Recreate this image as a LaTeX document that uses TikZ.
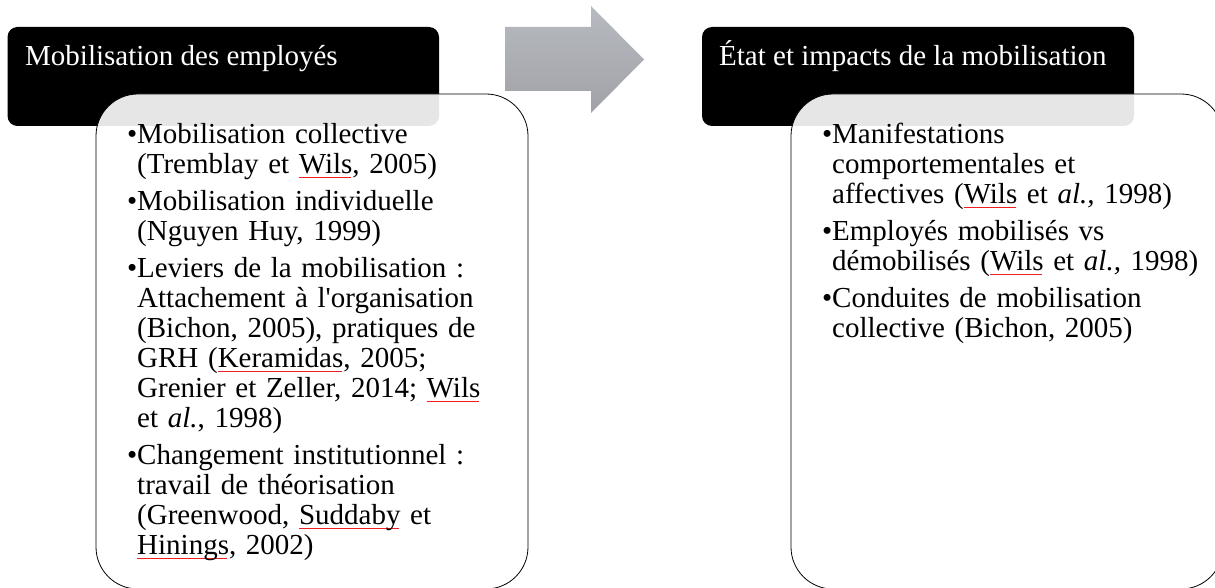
\documentclass[tikz,border=0pt]{standalone}
\usepackage{fontspec}
\setmainfont{Liberation Serif}
\definecolor{arrowtop}{RGB}{184,186,193}
\definecolor{arrowbot}{RGB}{160,162,168}
\definecolor{squig}{RGB}{240,30,30}
\newlength\bulw \setlength\bulw{10pt}
\newsavebox\sqbox
\newcommand\sqw[1]{\leavevmode\sbox\sqbox{#1}\rlap{\hbox to \wd\sqbox{\color{squig}\leaders\hbox{\rule[-4.6pt]{1pt}{0.7pt}\rule[-3.9pt]{1pt}{0.7pt}}\hfill}}#1}
\newcommand\bul[1]{\hangindent=\bulw\hangafter=1\noindent\makebox[\bulw][l]{•}#1\par}
\newcommand\nl{\newline}
\begin{document}
\begin{tikzpicture}[x=1pt,y=-1pt,
  header/.style={fill=black, rounded corners=10pt},
  panel/.style={fill=white, fill opacity=0.9, draw=black, line width=0.8pt, rounded corners=42pt},
  htext/.style={anchor=base west, inner sep=0pt, text=white, font=\fontsize{29}{30}\selectfont},
  btext/.style={anchor=base west, inner sep=0pt, text width=420pt, align=left, font=\fontsize{29}{30}\selectfont\setlength\parskip{7pt}},
]
\useasboundingbox (0,0) rectangle (1215,588);
% left column
\path[header] (7.5,27) rectangle (439,126);
\node[htext] (h1) at (25,66) {Mobilisation des employés};
\path[panel] (96,94) rectangle (528,589);
\node[btext] (b1) at (127,143.5) {%
\bul{Mobilisation collective\nl(Tremblay et \sqw{Wils}, 2005)}%
\bul{Mobilisation individuelle\nl(Nguyen Huy, 1999)}%
\bul{Leviers de la mobilisation :\nl Attachement à l\textquotesingle organisation\nl(Bichon, 2005), pratiques de\nl GRH (\sqw{Keramidas}, 2005;\nl Grenier et Zeller, 2014; \sqw{Wils}\nl et \textit{al.}, 1998)}%
\bul{Changement institutionnel :\nl travail de théorisation\nl(Greenwood, \sqw{Suddaby} et\nl\sqw{Hinings}, 2002)}};
% arrow
\shade[top color=arrowtop, bottom color=arrowbot]
  (505,27) -- (591,27) -- (591,6) -- (644,59.5) -- (591,113) -- (591,91) -- (505,91) -- cycle;
% right column
\path[header] (702,27) rectangle (1134,126);
\node[htext] (h2) at (719,66) {État et impacts de la mobilisation};
\path[panel] (791,94) rectangle (1223,589);
\node[btext] (b2) at (822,143.5) {%
\bul{Manifestations\nl comportementales et\nl affectives (\sqw{Wils} et \textit{al.,} 1998)}%
\bul{Employés mobilisés vs\nl démobilisés (\sqw{Wils} et \textit{al.,} 1998)}%
\bul{Conduites de mobilisation\nl collective (Bichon, 2005)}};
\end{tikzpicture}
\end{document}
